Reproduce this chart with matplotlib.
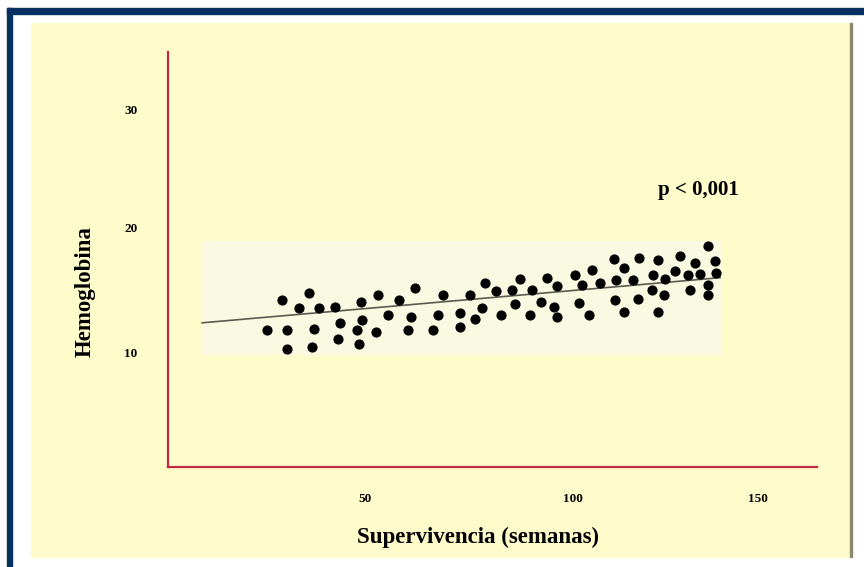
import matplotlib.pyplot as plt
from matplotlib.patches import Rectangle

# scatter values (weeks, hemoglobin)
semanas = [26.4, 30.0, 31.2, 31.2, 34.1, 36.6, 37.7, 37.1, 39.0, 42.8,
           43.9, 43.4, 49.0, 49.3, 48.0, 48.4, 52.5, 53.1, 55.5, 61.9,
           58.2, 61.1, 60.3, 68.7, 67.5, 66.4, 75.1, 72.8, 72.7, 76.3,
           78.1, 78.8, 81.4, 82.7, 85.2, 86.1, 87.3, 90.1, 89.7, 92.3,
           93.8, 95.4, 96.1, 96.1, 100.5, 102.1, 104.6, 106.5, 101.5, 103.7,
           109.7, 112.3, 110.3, 114.4, 115.9, 110.1, 115.5, 112.3, 120.3, 119.1,
           122.1, 118.9, 121.9, 120.3, 125.6, 124.5, 129.2, 127.6, 130.5, 128.0,
           132.5, 134.0, 134.3, 132.4, 132.3]
hemoglobina = [11.8, 14.2, 11.8, 10.3, 13.6, 14.8, 11.9, 10.5, 13.6, 13.7,
               12.4, 11.1, 14.1, 12.6, 11.8, 10.7, 11.7, 14.6, 13.0, 15.2,
               14.2, 12.9, 11.8, 14.6, 13.0, 11.8, 14.6, 13.2, 12.1, 12.7,
               13.6, 15.6, 14.9, 13.0, 15.0, 13.9, 15.9, 15.0, 13.0, 14.1,
               16.0, 13.7, 15.3, 12.9, 16.2, 15.4, 16.6, 15.6, 14.0, 13.0,
               17.5, 16.8, 15.8, 15.8, 17.6, 14.2, 14.3, 13.3, 17.4, 16.2,
               15.9, 15.0, 14.6, 13.3, 17.7, 16.5, 17.2, 16.2, 16.3, 15.0,
               18.5, 17.3, 16.4, 15.4, 14.6]

# trend line end points and shaded band
trend_x = [10.8, 135.3]
trend_y = [12.4, 16.0]
band_x = [10.8, 135.3]
band_y = [9.9, 18.9]

# tick labels (positions as they sit in the picture)
xtick_pos = [50, 100, 144.5]
xtick_labels = ["50", "100", "150"]
ytick_pos = [10, 20, 29.4]
ytick_labels = ["10", "20", "30"]

W, H = 864, 567
fig = plt.figure(figsize=(8.64, 5.67), dpi=100)
fig.patch.set_facecolor("white")

# navy frame, yellow slide area, grey edge
navy = "#05305f"
fig.add_artist(Rectangle((7 / W, 0), 5 / W, (H - 8) / H, transform=fig.transFigure,
                         color=navy, zorder=0))
fig.add_artist(Rectangle((7 / W, 1 - 14 / H), 1, 6 / H, transform=fig.transFigure,
                         color=navy, zorder=0))
fig.add_artist(Rectangle((31 / W, 1 - 557 / H), 819 / W, 534 / H,
                         transform=fig.transFigure, color="#fffccb", zorder=0))
fig.add_artist(Rectangle((850 / W, 1 - 557 / H), 2 / W, 534 / H,
                         transform=fig.transFigure, color="#8c8870", zorder=0))

ax = fig.add_axes([168 / W, 1 - 467 / H, (817 - 168) / W, (467 - 52) / H])
ax.patch.set_alpha(0)
ax.set_xlim(2.6, 158.6)
ax.set_ylim(0.9, 34.0)

ax.add_patch(Rectangle((band_x[0], band_y[0]), band_x[1] - band_x[0],
                       band_y[1] - band_y[0], color="#fafae2", zorder=1))
ax.plot(trend_x, trend_y, color="#5a5a50", lw=1.2, zorder=2)
ax.scatter(semanas, hemoglobina, s=40, color="black", zorder=3)

ax.text(130.0, 23.0, "p < 0,001", ha="center", va="center", fontsize=15,
        fontweight="bold", family="Liberation Serif")

for side in ["top", "right"]:
    ax.spines[side].set_visible(False)
for side in ["left", "bottom"]:
    ax.spines[side].set_color("#bf2b46")
    ax.spines[side].set_linewidth(1.6)

ax.set_xticks(xtick_pos)
ax.set_xticklabels(xtick_labels)
ax.set_yticks(ytick_pos)
ax.set_yticklabels(ytick_labels)
ax.tick_params(axis="x", length=0, pad=19)
ax.tick_params(axis="y", length=0, pad=22)
for lab in ax.get_xticklabels() + ax.get_yticklabels():
    lab.set_fontfamily("Liberation Serif")
    lab.set_fontweight("bold")
    lab.set_fontsize(9.5)

fig.text(478 / W, 1 - 537 / H, "Supervivencia (semanas)", ha="center", va="center",
         fontsize=16.5, fontweight="bold", family="Liberation Serif")
fig.text(85 / W, 1 - 292 / H, "Hemoglobina", ha="center", va="center", rotation=90,
         fontsize=16.5, fontweight="bold", family="Liberation Serif")

plt.savefig("out.png", dpi=100)
